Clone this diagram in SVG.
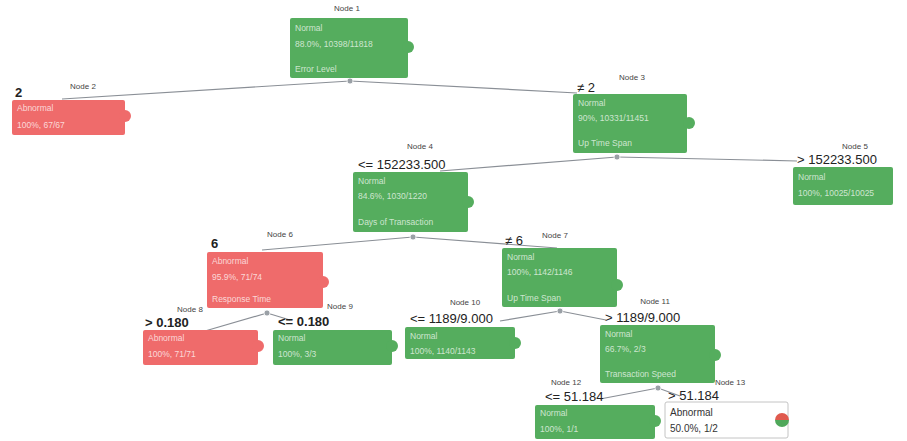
<svg xmlns="http://www.w3.org/2000/svg" width="907" height="441" viewBox="0 0 907 441">
<style>
.g{fill:#55ad5e}
.r{fill:#ef6b6b}
.t{font-family:"Liberation Sans",Arial,sans-serif;font-size:8.5px;fill:#e4f2e4;fill-opacity:0.85}
.tr{font-family:"Liberation Sans",Arial,sans-serif;font-size:8.5px;fill:#fde4e4;fill-opacity:0.9}
.nl{font-family:"Liberation Sans",Arial,sans-serif;font-size:8px;fill:#444;text-anchor:middle}
.cl{font-family:"Liberation Sans",Arial,sans-serif;font-size:13px;fill:#222}
.c{fill:none;stroke:#8a8f96;stroke-width:1.2}
.p{fill:#9aa0a6;stroke:#fff;stroke-width:0.8}
.dt{font-family:"Liberation Sans",Arial,sans-serif;font-size:10px;fill:#333}
</style>
<rect width="907" height="441" fill="#fff"/>
<g id="connectors">
<polyline class="c" points="350,81 62,99"/>
<polyline class="c" points="350,81 577,93"/>
<polyline class="c" points="617,157 440,171"/>
<polyline class="c" points="617,157 797,161"/>
<polyline class="c" points="413,237 262,250"/>
<polyline class="c" points="413,237 557,248"/>
<polyline class="c" points="267,313 205,331"/>
<polyline class="c" points="267,313 290,320"/>
<polyline class="c" points="560,311 500,321"/>
<polyline class="c" points="560,311 606,320"/>
<polyline class="c" points="658,388 600,399"/>
<polyline class="c" points="658,388 680,396"/>
<circle class="p" cx="350" cy="81" r="3"/>
<circle class="p" cx="617" cy="157" r="3"/>
<circle class="p" cx="413" cy="237" r="3"/>
<circle class="p" cx="267" cy="313" r="3"/>
<circle class="p" cx="560" cy="311" r="3"/>
<circle class="p" cx="658" cy="388" r="3"/>
</g>
<g id="node1">
<text class="nl" x="347" y="11">Node 1</text>
<rect class="g" x="290" y="18" width="118" height="60" rx="2"/>
<circle class="g" cx="408" cy="47" r="6"/>
<text class="t" x="295" y="31">Normal</text>
<text class="t" x="295" y="47">88.0%, 10398/11818</text>
<text class="t" x="295" y="72">Error Level</text>
</g>
<g id="node2">
<text class="nl" x="83" y="89">Node 2</text>
<text class="cl" x="15" y="97" font-weight="bold">2</text>
<rect class="r" x="12" y="100" width="113" height="35" rx="2"/>
<circle class="r" cx="125" cy="116" r="6"/>
<text class="tr" x="17" y="111">Abnormal</text>
<text class="tr" x="17" y="128">100%, 67/67</text>
</g>
<g id="node3">
<text class="nl" x="632" y="80">Node 3</text>
<text class="cl" x="577" y="92">≠ 2</text>
<rect class="g" x="573" y="94" width="114" height="59" rx="2"/>
<circle class="g" cx="689" cy="123" r="6"/>
<text class="t" x="578" y="106">Normal</text>
<text class="t" x="578" y="121">90%, 10331/11451</text>
<text class="t" x="578" y="146">Up Time Span</text>
</g>
<g id="node4">
<text class="nl" x="420" y="149">Node 4</text>
<text class="cl" x="358" y="169">&lt;= 152233.500</text>
<rect class="g" x="353" y="172" width="115" height="60" rx="2"/>
<circle class="g" cx="468" cy="202" r="6"/>
<text class="t" x="358" y="184">Normal</text>
<text class="t" x="358" y="199">84.6%, 1030/1220</text>
<text class="t" x="358" y="225">Days of Transaction</text>
</g>
<g id="node5">
<text class="nl" x="855" y="149">Node 5</text>
<text class="cl" x="797" y="164">&gt; 152233.500</text>
<rect class="g" x="793" y="167" width="100" height="38" rx="2"/>
<text class="t" x="798" y="180">Normal</text>
<text class="t" x="798" y="196">100%, 10025/10025</text>
</g>
<g id="node6">
<text class="nl" x="280" y="237">Node 6</text>
<text class="cl" x="211" y="248" font-weight="bold">6</text>
<rect class="r" x="207" y="252" width="116" height="56" rx="2"/>
<circle class="r" cx="323" cy="282" r="6"/>
<text class="tr" x="212" y="264">Abnormal</text>
<text class="tr" x="212" y="280">95.9%, 71/74</text>
<text class="tr" x="212" y="302">Response Time</text>
</g>
<g id="node7">
<text class="nl" x="555" y="238">Node 7</text>
<text class="cl" x="505" y="245">≠ 6</text>
<rect class="g" x="502" y="248" width="115" height="59" rx="2"/>
<circle class="g" cx="617" cy="285" r="6"/>
<text class="t" x="507" y="260">Normal</text>
<text class="t" x="507" y="275">100%, 1142/1146</text>
<text class="t" x="507" y="301">Up Time Span</text>
</g>
<g id="node8">
<text class="nl" x="190" y="312">Node 8</text>
<text class="cl" x="145" y="327" font-weight="bold">&gt; 0.180</text>
<rect class="r" x="143" y="330" width="115" height="35" rx="2"/>
<circle class="r" cx="258" cy="346" r="6"/>
<text class="tr" x="148" y="341">Abnormal</text>
<text class="tr" x="148" y="357">100%, 71/71</text>
</g>
<g id="node9">
<text class="nl" x="340" y="309">Node 9</text>
<text class="cl" x="278" y="326" font-weight="bold">&lt;= 0.180</text>
<rect class="g" x="273" y="330" width="119" height="35" rx="2"/>
<circle class="g" cx="392" cy="346" r="6"/>
<text class="t" x="278" y="341">Normal</text>
<text class="t" x="278" y="357">100%, 3/3</text>
</g>
<g id="node10">
<text class="nl" x="465" y="305">Node 10</text>
<text class="cl" x="410" y="323">&lt;= 1189/9.000</text>
<rect class="g" x="405" y="327" width="110" height="32" rx="2"/>
<circle class="g" cx="515" cy="343" r="6"/>
<text class="t" x="410" y="339">Normal</text>
<text class="t" x="410" y="354">100%, 1140/1143</text>
</g>
<g id="node11">
<text class="nl" x="655" y="304">Node 11</text>
<text class="cl" x="605" y="322">&gt; 1189/9.000</text>
<rect class="g" x="600" y="325" width="115" height="58" rx="2"/>
<circle class="g" cx="715" cy="355" r="6"/>
<text class="t" x="605" y="337">Normal</text>
<text class="t" x="605" y="352">66.7%, 2/3</text>
<text class="t" x="605" y="377">Transaction Speed</text>
</g>
<g id="node12">
<text class="nl" x="566" y="385">Node 12</text>
<text class="cl" x="545" y="401">&lt;= 51.184</text>
<rect class="g" x="535" y="405" width="120" height="34" rx="2"/>
<circle class="g" cx="655" cy="421" r="6"/>
<text class="t" x="540" y="416">Normal</text>
<text class="t" x="540" y="432">100%, 1/1</text>
</g>
<g id="node13">
<text class="nl" x="730" y="385">Node 13</text>
<text class="cl" x="668" y="400">&gt; 51.184</text>
<rect x="665" y="402" width="123" height="36" rx="2" fill="#fff" stroke="#c4c4c4"/>
<path d="M775,420 A7,7 0 0 1 789,420 Z" fill="#e05a4e"/>
<path d="M775,420 A7,7 0 0 0 789,420 Z" fill="#4fa85a"/>
<text class="dt" x="670" y="416">Abnormal</text>
<text class="dt" x="670" y="432">50.0%, 1/2</text>
</g>
</svg>
